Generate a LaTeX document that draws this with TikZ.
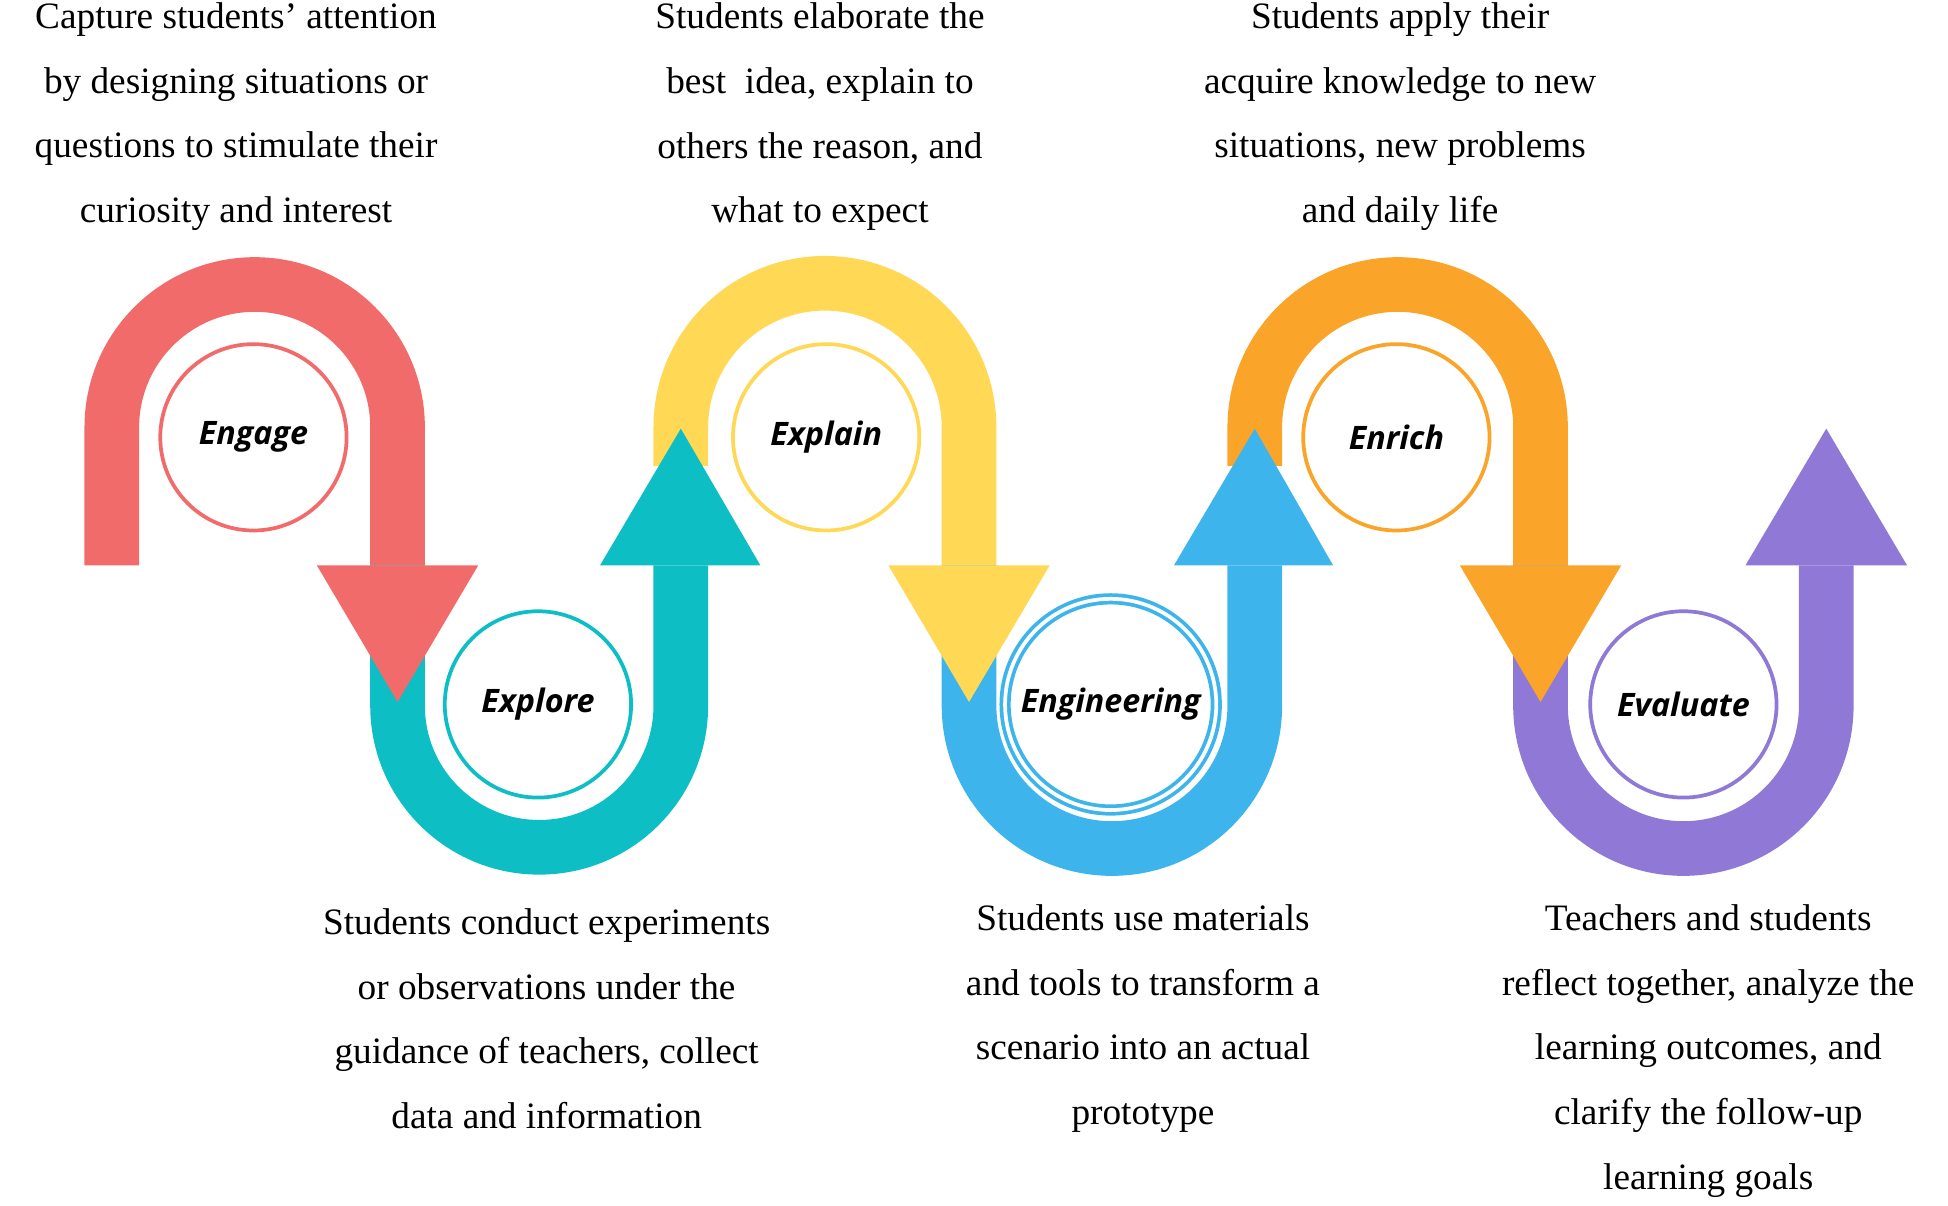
\documentclass[tikz,border=0pt]{standalone}
\usepackage{fontspec}
\setmainfont{Liberation Serif}
\newfontfamily\lblfont{Open Sans}
\definecolor{cred}{HTML}{F26B6B}
\definecolor{cteal}{HTML}{0DBFC4}
\definecolor{cyel}{HTML}{FFD855}
\definecolor{cblue}{HTML}{3DB5EC}
\definecolor{corange}{HTML}{FAA52A}
\definecolor{cpurp}{HTML}{8F78D6}
\begin{document}
\begin{tikzpicture}[x=1pt,y=-1pt,
 band/.style={line width=44pt,line cap=butt},
 txt/.style={align=center,font=\fontsize{30}{52}\selectfont,inner sep=0},
 ring/.style={circle,minimum size=150pt,line width=3pt,fill=white,font=\lblfont\bfseries\itshape\fontsize{26}{30}\selectfont,inner sep=0}]
\useasboundingbox (0,0) rectangle (1568,970);
% bands
\draw[band,cred] (90,455) -- (90,344) arc[start angle=180,end angle=360,radius=115] -- (320,455);
\draw[band,cteal] (320,455) -- (320,568) arc[start angle=180,end angle=0,radius=114] -- (548,455);
\draw[band,cyel] (548,375) -- (548,344) arc[start angle=180,end angle=360,radius=116] -- (780,455);
\draw[band,cblue] (780,455) -- (780,568) arc[start angle=180,end angle=0,radius=115] -- (1010,455);
\draw[band,corange] (1010,375) -- (1010,344) arc[start angle=180,end angle=360,radius=115] -- (1240,455);
\draw[band,cpurp] (1240,455) -- (1240,568) arc[start angle=180,end angle=0,radius=115] -- (1470,455);
% arrowheads
\fill[cred] (255,455) -- (385,455) -- (320,565) -- cycle;
\fill[cteal] (483,455) -- (612,455) -- (548,345) -- cycle;
\fill[cyel] (715,455) -- (845,455) -- (780,565) -- cycle;
\fill[cblue] (945,455) -- (1073,455) -- (1010,345) -- cycle;
\fill[corange] (1175,455) -- (1305,455) -- (1240,565) -- cycle;
\fill[cpurp] (1405,455) -- (1535,455) -- (1470,345) -- cycle;
% rings
\node[ring,draw=cred] (engage) at (204,352) {Engage};
\node[ring,draw=cteal] (explore) at (433,567) {Explore};
\node[ring,draw=cyel] (explain) at (665,352) {Explain};
\node[ring,draw=cblue,double=white,double distance=3pt,minimum size=170pt] (eng) at (894,567) {Engineering};
\node[ring,draw=corange] (enrich) at (1124,352) {Enrich};
\node[ring,draw=cpurp] (evaluate) at (1355,567) {Evaluate};
% texts
\node[txt] (t1) at (190,94) {Capture students' attention\\by designing situations or\\questions to stimulate their\\curiosity and interest};
\node[txt] (t2) at (660,94) {Students elaborate the\\best\ \ idea, explain to\\others the reason, and\\what to expect};
\node[txt] (t3) at (1127,94) {Students apply their\\acquire knowledge to new\\situations, new problems\\and daily life};
\node[txt] (t4) at (440,820) {Students conduct experiments\\or observations under the\\guidance of teachers, collect\\data and information};
\node[txt] (t5) at (920,820) {Students use materials\\and tools to transform a\\scenario into an actual\\prototype};
\node[txt] (t6) at (1375,846) {Teachers and students\\reflect together, analyze the\\learning outcomes, and\\clarify the follow-up\\learning goals};
\end{tikzpicture}
\end{document}
